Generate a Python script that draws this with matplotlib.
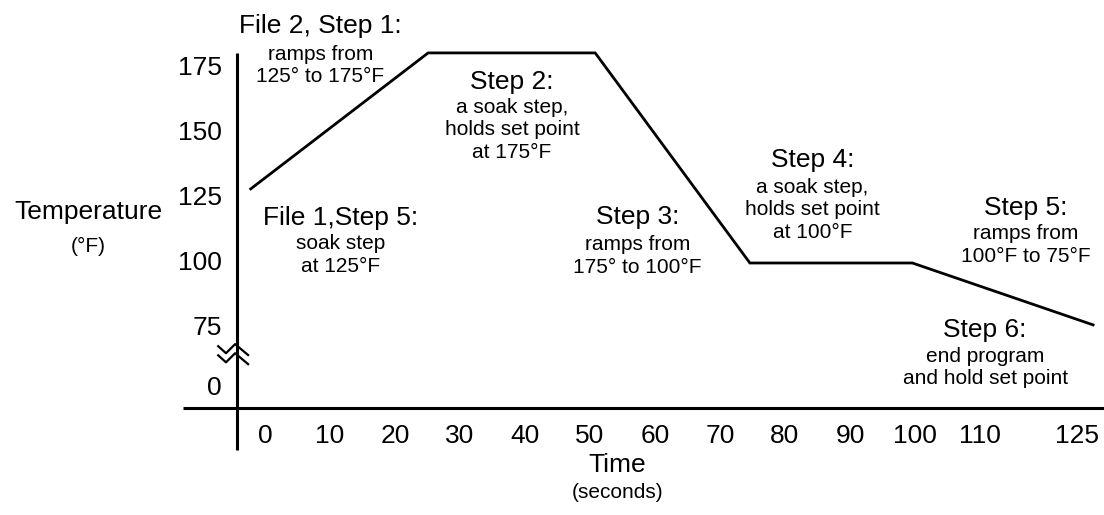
import numpy as np
import matplotlib.pyplot as plt

plt.rcParams['font.family'] = ['Liberation Sans', 'DejaVu Sans']

# ── Data ──────────────────────────────────────────────────────────────────────
time_s = [-2.2, 25.1, 50.8, 74.6, 99.6, 127.4]
temp_f = [128.5, 180.8, 180.8, 100, 100, 76.2]

x_ticks = [0, 10, 20, 30, 40, 50, 60, 70, 80, 90, 100, 110, 125]
y_ticks = [75, 100, 125, 150, 175]
y_zero_pos = 51.9          # where the "0" label sits below the axis break

notes = [
    # (heading, body, x, y_heading, y_body)
    ("File 2, Step 1:", "ramps from\n125° to 175°F", 8.5, 191.2, 176.0),
    ("Step 2:", "a soak step,\nholds set point\nat 175°F", 38.0, 169.5, 151.2),
    ("File 1,Step 5:", "soak step\nat 125°F", 11.6, 117.3, 103.1),
    ("Step 3:", "ramps from\n175° to 100°F", 57.3, 117.7, 102.7),
    ("Step 4:", "a soak step,\nholds set point\nat 100°F", 84.2, 139.6, 120.4),
    ("Step 5:", "ramps from\n100°F to 75°F", 117.0, 121.2, 106.9),
    ("Step 6:", "end program\nand hold set point", 110.8, 74.2, 59.8),
]

# ── Figure ────────────────────────────────────────────────────────────────────
fig = plt.figure(figsize=(11.04, 5.15), dpi=100)
ax = fig.add_axes([0, 0, 1, 1])
ax.set_xlim(-40.77, 129.08)
ax.set_ylim(3.08, 201.15)
ax.axis("off")

BIG, SMALL = 19, 15
x_axis_y = 44.2
y_axis_x = -4.3

# axes drawn as plain lines, crossing each other
ax.plot([y_axis_x, y_axis_x], [28.1, 180.8], color="black", lw=2.2, solid_capstyle="butt")
ax.plot([-12.6, 129.08], [x_axis_y, x_axis_y], color="black", lw=2.2, solid_capstyle="butt")

# axis break symbol
brk_dx = np.array([-2.9, -1.7, -0.3, 1.7])
brk_dy = np.array([1.5, -1.2, 2.3, -1.9])
for y0 in (66.5, 63.0):
    ax.plot(y_axis_x + brk_dx, y0 + brk_dy, color="black", lw=1.6)

# profile
ax.plot(time_s, temp_f, color="black", lw=2.0, solid_joinstyle="miter")

# tick labels
for t in x_ticks:
    ax.text(t, 33.5, str(t), ha="center", va="center", fontsize=BIG)
for v in y_ticks:
    ax.text(-6.6, v, str(v), ha="right", va="center", fontsize=BIG)
ax.text(-6.6, y_zero_pos, "0", ha="right", va="center", fontsize=BIG)

# axis titles
ax.text(-27.2, 119.6, "Temperature", ha="center", va="center", fontsize=BIG)
ax.text(-27.2, 106.2, "(°F)", ha="center", va="center", fontsize=SMALL)
ax.text(54.2, 22.3, "Time", ha="center", va="center", fontsize=BIG)
ax.text(54.2, 11.9, "(seconds)", ha="center", va="center", fontsize=SMALL)

# step notes
for head, body, x, yh, yb in notes:
    ax.text(x, yh, head, ha="center", va="center", fontsize=BIG)
    ax.text(x, yb, body, ha="center", va="center", fontsize=SMALL,
            multialignment="center", linespacing=1.25)

fig.savefig("out.png", dpi=100)
